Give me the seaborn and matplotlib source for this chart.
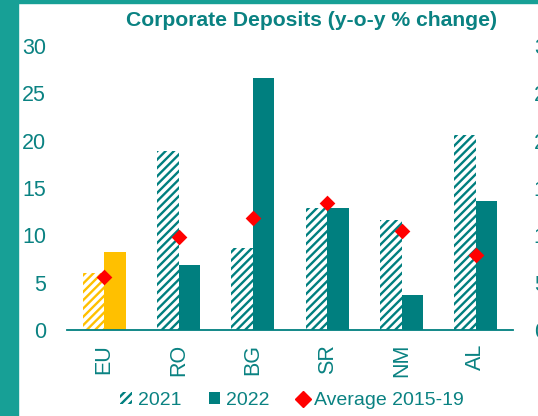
import numpy as np
import pandas as pd
import matplotlib
matplotlib.use("Agg")
import matplotlib.pyplot as plt
import seaborn as sns
from matplotlib.patches import Patch, Rectangle
from matplotlib.lines import Line2D

# Datos
paises = ["EU", "RO", "BG", "SR", "NM", "AL"]
dep_2021 = [6.0, 18.9, 8.7, 12.9, 11.6, 20.6]
dep_2022 = [8.2, 6.9, 26.6, 12.9, 3.7, 13.6]
media_2015_19 = [5.6, 9.8, 11.8, 13.4, 10.5, 7.9]
ticks_y = [0, 5, 10, 15, 20, 25, 30]
etiquetas = ["2021", "2022", "Average 2015-19"]

TEAL = "#007f7f"
TEXTO = "#0a8282"
AMARILLO = "#ffc000"
ROJO = "#ff0000"
BORDE = "#17a096"

sns.set_style("white")
plt.rcParams["font.family"] = ["Liberation Sans", "DejaVu Sans"]
plt.rcParams["hatch.linewidth"] = 1.7

df = pd.DataFrame({
    "pais": paises * 2,
    "anio": ["2021"] * len(paises) + ["2022"] * len(paises),
    "valor": dep_2021 + dep_2022,
})

fig = plt.figure(figsize=(5.38, 4.16), dpi=100)

# marco verde de la diapositiva
fig.patches.append(Rectangle((0, 0), 18 / 538, 1, transform=fig.transFigure,
                             color=BORDE, zorder=0))
fig.patches.append(Rectangle((0, 1 - 3 / 416), 1, 3 / 416, transform=fig.transFigure,
                             color=BORDE, zorder=0))

ax = fig.add_axes([67 / 538, 1 - 330 / 416, (513 - 67) / 538, (330 - 46) / 416])

sns.barplot(data=df, x="pais", y="valor", hue="anio", palette=[TEAL, TEAL],
            width=0.575, gap=0, saturation=1, errorbar=None, legend=False, ax=ax)

# 2021 rayado, EU en amarillo
for i, bar in enumerate(ax.containers[0]):
    bar.set_facecolor("white")
    bar.set_hatch("////")
    bar.set_linewidth(0)
    bar.set_edgecolor(AMARILLO if paises[i] == "EU" else TEAL)
for i, bar in enumerate(ax.containers[1]):
    bar.set_linewidth(0)
    if paises[i] == "EU":
        bar.set_facecolor(AMARILLO)

sns.stripplot(x=paises, y=media_2015_19, marker="D", color=ROJO, size=8,
              jitter=False, linewidth=0, zorder=5, ax=ax)

ax.set_xlim(-0.5, len(paises) - 0.5)
ax.set_ylim(0, 30)
ax.set_yticks(ticks_y)
ax.set_xlabel("")
ax.set_ylabel("")
for s in ["top", "right", "left"]:
    ax.spines[s].set_visible(False)
ax.spines["bottom"].set_color(TEAL)
ax.spines["bottom"].set_linewidth(1.3)

ax.set_xticks(np.arange(-0.5, len(paises), 1), minor=True)
ax.tick_params(axis="x", which="minor", length=6, width=1.3, color=TEAL)
ax.tick_params(axis="x", which="major", length=0, pad=10, labelrotation=90,
               labelsize=15.5, labelcolor=TEXTO)
ax.tick_params(axis="y", length=0, pad=15, labelsize=15.5, labelcolor=TEXTO)

# eje derecho (cortado en el original)
ax2 = ax.twinx()
ax2.set_ylim(0, 30)
ax2.set_yticks(ticks_y)
for s in ax2.spines.values():
    s.set_visible(False)
ax2.tick_params(axis="y", length=0, pad=15, labelsize=15.5, labelcolor=TEXTO)

fig.text(311 / 538, 1 - 20 / 416, "Corporate Deposits (y-o-y % change)",
         ha="center", va="center", fontsize=15.2, fontweight="bold", color=TEXTO)

handles = [
    Patch(facecolor="white", edgecolor=TEAL, hatch="////", linewidth=0),
    Patch(facecolor=TEAL, linewidth=0),
    Line2D([], [], marker="D", color=ROJO, linestyle="none", markersize=8),
]
fig.legend(handles, etiquetas, loc="center", bbox_to_anchor=(0.543, 0.037), ncol=3,
           frameon=False, fontsize=14, handlelength=0.6, handleheight=0.6,
           handletextpad=0.3, columnspacing=1.4, labelcolor=TEXTO)

fig.savefig("out.png", dpi=100)
